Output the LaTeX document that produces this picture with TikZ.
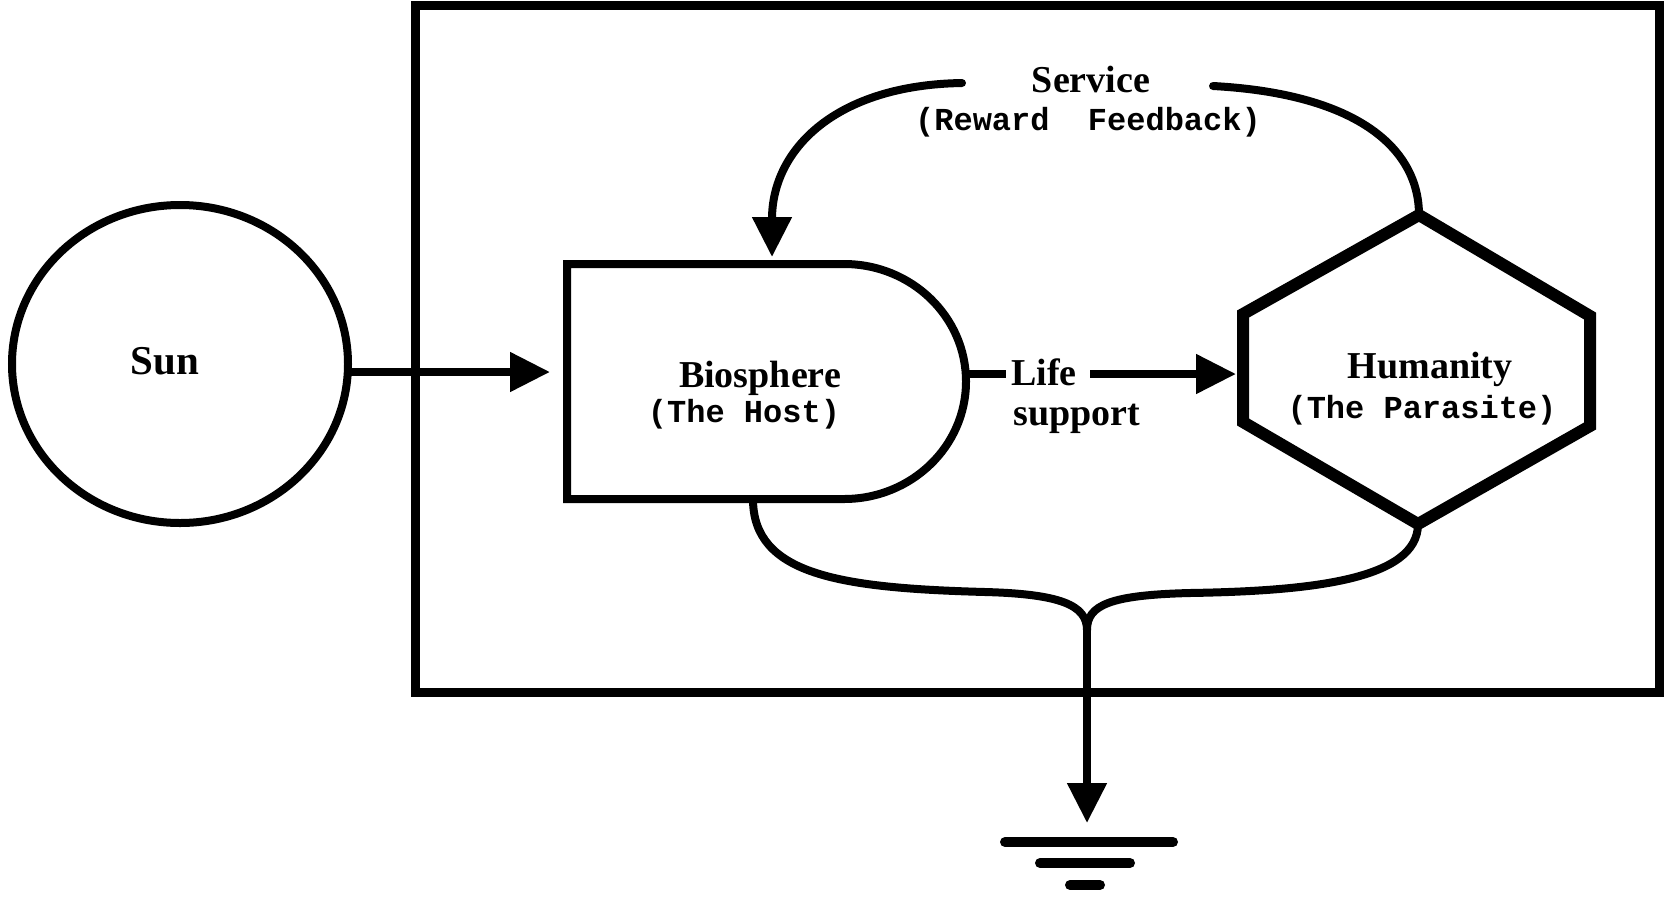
\documentclass[tikz,border=0pt]{standalone}
\usepackage{fontspec}
\setmainfont{Liberation Serif}
\newfontfamily\monofont{Liberation Mono}
\usetikzlibrary{arrows.meta,shapes.geometric}
\begin{document}
\begin{tikzpicture}[x=1pt,y=-1pt,
  ln/.style={line width=8pt},
  serif/.style={font=\bfseries\fontsize{38}{44}\selectfont, inner sep=0pt, anchor=base},
  mono/.style={font=\monofont\bfseries\fontsize{32}{36}\selectfont, inner sep=0pt, anchor=base},
  tip/.style={-{Triangle[length=40pt,width=38pt]}}
]
\useasboundingbox (0,0) rectangle (1668,898);

% outer box
\coordinate (boxNW) at (415,5);
\coordinate (boxSE) at (1659,692);
\draw[line width=9pt] (boxNW) rectangle (boxSE);

% Sun
\node[draw, ellipse, ln, minimum width=336pt, minimum height=318pt, inner sep=0pt] (sun) at (180,364) {};
\node[serif, font=\bfseries\fontsize{41}{46}\selectfont] (suntext) at (165,374) {Sun};

% Biosphere D shape
\coordinate (bioNW) at (567,264);
\coordinate (bioNE) at (844,264);
\coordinate (bioE) at (966,381.5);
\coordinate (bioSE) at (844,499);
\coordinate (bioSW) at (567,499);
\draw[ln, line join=miter] (bioSE) -- (bioSW) -- (bioNW) -- (bioNE)
  .. controls (911.4,264) and (966,316.6) .. (bioE)
  .. controls (966,446.4) and (911.4,499) .. (bioSE) -- cycle;
\node[serif] (biotext) at (760,387) {Biosphere};
\node[mono] (biosub) at (744,422) {(The Host)};

% Humanity hexagon
\coordinate (hN) at (1419,215);
\coordinate (hNE) at (1590,316);
\coordinate (hSE) at (1590,426);
\coordinate (hS) at (1418,524);
\coordinate (hSW) at (1243,422);
\coordinate (hNW) at (1243,314);
\draw[line width=12pt, line join=miter] (hN) -- (hNE) -- (hSE) -- (hS) -- (hSW) -- (hNW) -- cycle;
\node[serif] (humtext) at (1430,378) {Humanity};
\node[mono] (humsub) at (1422,418) {(The Parasite)};

% Sun -> Biosphere
\coordinate (sunE) at (351,372);
\coordinate (bioIn) at (550,372);
\draw[ln, tip] (sunE) -- (bioIn);

% Life support
\node[serif, anchor=base west] (life) at (1011,385) {Life};
\node[serif] (support) at (1077,425) {support};
\coordinate (lifeL) at (1006,374);
\coordinate (lifeR) at (1090,374);
\coordinate (humIn) at (1236,374);
\draw[ln] (966,374) -- (lifeL);
\draw[ln, tip] (lifeR) -- (humIn);

% Service feedback
\node[serif] (service) at (1091,92) {Service};
\node[mono] (reward) at (1088,130) {(Reward\ \ Feedback)};
\coordinate (svcL) at (962,83);
\coordinate (svcR) at (1213,86);
\coordinate (bioTop) at (772,257);
\draw[ln, tip, line cap=round] (svcL) .. controls (835,85) and (772,150) .. (bioTop);
\draw[ln, line cap=round] (svcR) .. controls (1360,94) and (1419,150) .. (hN);

% outflow to sink
\coordinate (bioBot) at (753,499);
\coordinate (join) at (1087,630);
\coordinate (sinkTip) at (1087,823);
\draw[ln] (bioBot) .. controls (753,575) and (840,588) .. (985,592)
  .. controls (1060,594) and (1087,605) .. (join);
\draw[ln] (hS) .. controls (1418,580) and (1310,591) .. (1190,593)
  .. controls (1110,595) and (1087,605) .. (join);
\draw[ln, tip] (join) -- (sinkTip);

% ground symbol
\coordinate (g1a) at (1005,842); \coordinate (g1b) at (1173,842);
\coordinate (g2a) at (1040,863); \coordinate (g2b) at (1130,863);
\coordinate (g3a) at (1070,885); \coordinate (g3b) at (1100,885);
\draw[line width=10pt, line cap=round] (g1a) -- (g1b);
\draw[line width=10pt, line cap=round] (g2a) -- (g2b);
\draw[line width=10pt, line cap=round] (g3a) -- (g3b);
\end{tikzpicture}
\end{document}
